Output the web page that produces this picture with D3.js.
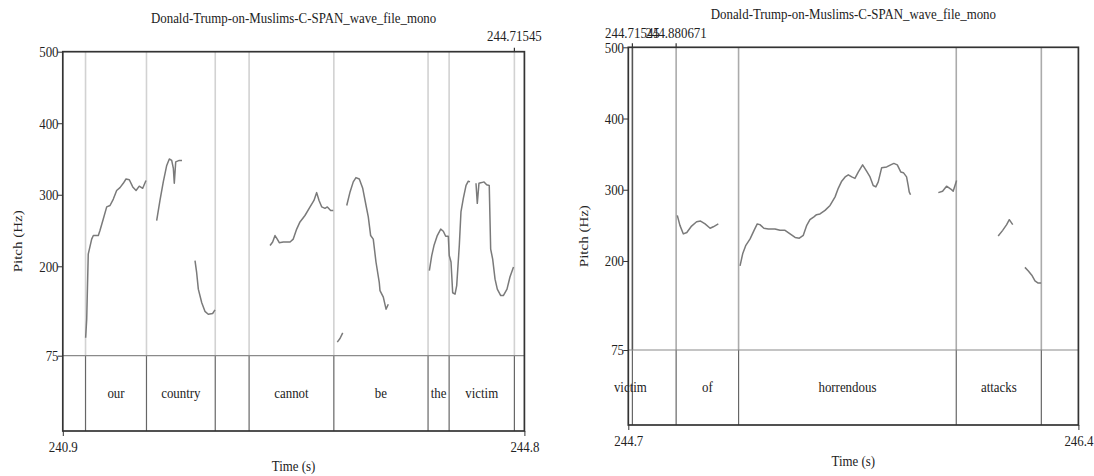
<!DOCTYPE html>
<html>
<head>
<meta charset="utf-8">
<script src="https://cdn.jsdelivr.net/npm/d3@7"></script>
<style>
  body { margin: 0; background: #fff; }
  svg { display: block; }
</style>
</head>
<body>
<svg id="chart" width="1094" height="476"></svg>
<script>
    // ---- data ----
    var title = "Donald-Trump-on-Muslims-C-SPAN_wave_file_mono";
    var pitchTicks = [500, 400, 300, 200, 75];

    // left picture
    var leftRange = [240.9, 244.8];
    var leftMarks = [244.71545];
    var leftBounds = [241.092, 241.607, 242.188, 242.474, 243.190, 243.986, 244.164, 244.71545];
    var leftWords = ["", "our", "country", "", "cannot", "be", "the", "victim", ""];
    var leftOur = [[241.093, 100], [241.102, 126], [241.115, 217], [241.144, 238], [241.158, 243], [241.200, 243],
        [241.214, 250], [241.242, 266], [241.271, 283], [241.299, 285], [241.327, 294], [241.355, 306],
        [241.383, 310], [241.411, 316], [241.434, 322], [241.462, 321], [241.491, 311], [241.519, 306],
        [241.546, 312], [241.575, 309], [241.603, 320]];
    var leftCountryA = [[241.693, 264], [241.721, 292], [241.749, 318], [241.778, 341], [241.800, 350],
        [241.820, 348], [241.834, 337], [241.842, 316], [241.854, 346], [241.884, 348], [241.907, 348]];
    var leftCountryB = [[242.017, 208], [242.031, 191], [242.045, 168], [242.074, 149], [242.101, 137],
        [242.129, 133], [242.166, 134], [242.186, 139]];
    var leftCannot = [[242.651, 229], [242.673, 234], [242.693, 243], [242.712, 238], [242.729, 233],
        [242.763, 234], [242.820, 234], [242.847, 238], [242.876, 252], [242.904, 262], [242.946, 271],
        [242.989, 283], [243.022, 292], [243.045, 303], [243.065, 292], [243.088, 283], [243.115, 281],
        [243.135, 283], [243.163, 278], [243.185, 278]];
    var leftBeA = [[243.219, 94], [243.242, 99], [243.265, 107]];
    var leftBeB = [[243.299, 285], [243.327, 304], [243.354, 318], [243.377, 324], [243.405, 322],
        [243.434, 309], [243.462, 285], [243.481, 269], [243.501, 243], [243.523, 238], [243.546, 206],
        [243.574, 177], [243.580, 166], [243.608, 157], [243.631, 140], [243.650, 147]];
    var leftVictimA = [[243.997, 194], [244.017, 215], [244.036, 229], [244.064, 243], [244.093, 252],
        [244.115, 249], [244.135, 242], [244.157, 242], [244.165, 215], [244.180, 206], [244.194, 163],
        [244.214, 161], [244.228, 173], [244.250, 229], [244.264, 276], [244.284, 295], [244.307, 313],
        [244.326, 319], [244.340, 318]];
    var leftVictimB = [[244.391, 316], [244.402, 288], [244.416, 316], [244.439, 317], [244.459, 318],
        [244.481, 314], [244.503, 313], [244.515, 224], [244.532, 210], [244.552, 182], [244.571, 168],
        [244.600, 159], [244.622, 159], [244.653, 168], [244.678, 185], [244.708, 199]];

    // right picture
    var rightRange = [244.7, 246.4];
    var rightMarks = [244.71545, 244.880671];
    var rightBounds = [244.71545, 244.880671, 245.1165, 245.9387, 246.260];
    var rightWords = ["victim", "", "of", "horrendous", "attacks", ""];
    var rightOf = [[244.885, 264], [244.895, 250], [244.908, 238], [244.921, 240], [244.939, 249],
        [244.958, 255], [244.973, 256], [244.990, 252], [245.009, 246], [245.021, 248], [245.040, 252]];
    var rightHorrendousA = [[245.122, 193], [245.132, 210], [245.144, 222], [245.160, 231], [245.175, 243],
        [245.187, 252], [245.197, 251], [245.212, 246], [245.229, 245], [245.254, 245], [245.273, 243],
        [245.292, 243], [245.311, 238], [245.330, 233], [245.346, 232], [245.361, 236], [245.374, 250],
        [245.386, 258], [245.401, 262], [245.411, 265], [245.424, 266], [245.443, 271], [245.462, 278],
        [245.481, 290], [245.493, 302], [245.506, 312], [245.519, 318], [245.531, 321], [245.544, 318],
        [245.556, 316], [245.569, 325], [245.585, 335], [245.600, 326], [245.613, 318], [245.625, 306],
        [245.635, 304], [245.644, 311], [245.657, 331], [245.676, 332], [245.691, 335], [245.703, 337],
        [245.716, 335], [245.729, 325], [245.739, 324], [245.751, 318], [245.757, 306], [245.761, 297],
        [245.766, 293]];
    var rightHorrendousB = [[245.871, 296], [245.887, 298], [245.902, 305], [245.918, 301], [245.927, 298],
        [245.940, 313]];
    var rightAttacksA = [[246.097, 235], [246.114, 243], [246.129, 251], [246.139, 258], [246.152, 251]];
    var rightAttacksB = [[246.198, 191], [246.211, 186], [246.224, 180], [246.236, 172], [246.248, 169],
        [246.259, 169]];

    var leftContours = [leftOur, leftCountryA, leftCountryB, leftCannot, leftBeA, leftBeB, leftVictimA, leftVictimB];
    var rightContours = [rightOf, rightHorrendousA, rightHorrendousB, rightAttacksA, rightAttacksB];

    var svg = d3.select("#chart");
    var font = "'Liberation Serif', 'Times New Roman', serif";
    var fontSize = 15;
    var squeeze = 0.86;   // the source picture is narrower than it is tall

    function label(g, x, y, str, rot) {
        return g.append("text")
            .attr("transform", "translate(" + x + "," + y + ")" + (rot ? " rotate(-90)" : "") +
                  (rot ? " scale(1," + squeeze + ")" : " scale(" + squeeze + ",1)"))
            .attr("text-anchor", "middle")
            .attr("dominant-baseline", "central")
            .style("font-family", font)
            .style("font-size", fontSize + "px")
            .style("fill", "#222")
            .text(str);
    }

    function drawPanel(p) {
        var g = svg.append("g");
        var x = d3.scaleLinear().domain(p.range).range([p.x0, p.x1]);
        var y = d3.scaleLinear().domain([75, 500]).range([p.y75, p.yTop]);
        var clip = function(t) { return Math.max(p.range[0], Math.min(p.range[1], t)); };

        // boundary lines, light in the pitch part, darker in the tier
        g.selectAll("line.bp").data(p.bounds).enter().append("line")
            .attr("x1", d => x(d)).attr("x2", d => x(d))
            .attr("y1", p.yTop).attr("y2", p.y75)
            .style("stroke", d => (x(d) - p.x0 < 8 ? "#555" : p.lineColor)).style("stroke-width", 1.6);
        g.selectAll("line.bt").data(p.bounds).enter().append("line")
            .attr("x1", d => x(d)).attr("x2", d => x(d))
            .attr("y1", p.y75).attr("y2", p.yBot)
            .style("stroke", "#666").style("stroke-width", 1.2);

        // tier separator at 75 Hz
        g.append("line")
            .attr("x1", p.x0).attr("x2", p.x1)
            .attr("y1", y(75)).attr("y2", y(75))
            .style("stroke", "#8a8a8a").style("stroke-width", 1.2);

        // pitch contours
        var line = d3.line().x(d => x(d[0])).y(d => y(d[1]));
        g.selectAll("path.pitch").data(p.contours).enter().append("path")
            .attr("d", line)
            .style("fill", "none")
            .style("stroke", "#7a7a7a")
            .style("stroke-width", 1.5)
            .style("stroke-linejoin", "round");

        // word labels centred in the visible part of each interval
        var edges = [p.range[0]].concat(p.bounds).concat([p.range[1]]);
        p.words.forEach(function(w, i) {
            if (!w) return;
            var a = clip(edges[i]), b = clip(edges[i + 1]);
            label(g, (x(a) + x(b)) / 2, (p.y75 + p.yBot) / 2, w);
        });

        // frame
        g.append("rect")
            .attr("x", p.x0).attr("y", p.yTop)
            .attr("width", p.x1 - p.x0).attr("height", p.yBot - p.yTop)
            .style("fill", "none").style("stroke", "#333").style("stroke-width", 1.7);

        // y axis
        var ya = g.append("g").attr("transform", "translate(" + p.x0 + ",0)")
            .call(d3.axisLeft(y).tickValues(pitchTicks).tickSize(5).tickPadding(0));
        ya.select(".domain").remove();
        ya.selectAll("line").style("stroke", "#333");
        ya.selectAll("text").style("font-family", font).style("font-size", fontSize + "px").style("fill", "#222")
            .attr("transform", "scale(" + squeeze + ",1)");

        // x axis, only the two ends
        var xa = g.append("g").attr("transform", "translate(0," + p.yBot + ")")
            .call(d3.axisBottom(x).tickValues(p.range).tickFormat(d3.format(".1f")).tickSize(5).tickPadding(p.xPad));
        xa.select(".domain").remove();
        xa.selectAll("line").style("stroke", "#333");
        xa.selectAll("text").style("font-family", font).style("font-size", fontSize + "px").style("fill", "#222")
            .attr("transform", "scale(" + squeeze + ",1)");

        // marked times on top
        g.selectAll("line.mark").data(p.marks).enter().append("line")
            .attr("x1", d => x(d)).attr("x2", d => x(d))
            .attr("y1", p.yTop - 4).attr("y2", p.yTop)
            .style("stroke", "#333").style("stroke-width", 1.2);
        p.marks.forEach(function(m) { label(g, x(m), p.markY, String(m)); });

        // titles
        label(g, (p.x0 + p.x1) / 2, p.titleY, title);
        label(g, (p.x0 + p.x1) / 2, p.timeY, "Time (s)");
        label(g, p.pitchX, (p.yTop + p.yBot) / 2, "Pitch (Hz)", true);
    }

    drawPanel({
        range: leftRange, bounds: leftBounds, words: leftWords, marks: leftMarks, contours: leftContours,
        x0: 62.8, x1: 524.4, yTop: 51.7, y75: 355.7, yBot: 431,
        titleY: 18, markY: 36, timeY: 466, pitchX: 18, xPad: 5, lineColor: "#d2d2d2"
    });
    drawPanel({
        range: rightRange, bounds: rightBounds, words: rightWords, marks: rightMarks, contours: rightContours,
        x0: 628.3, x1: 1078.4, yTop: 47.3, y75: 350, yBot: 425,
        titleY: 14, markY: 33, timeY: 461, pitchX: 584, xPad: 5, lineColor: "#ababab"
    });
</script>
</body>
</html>
